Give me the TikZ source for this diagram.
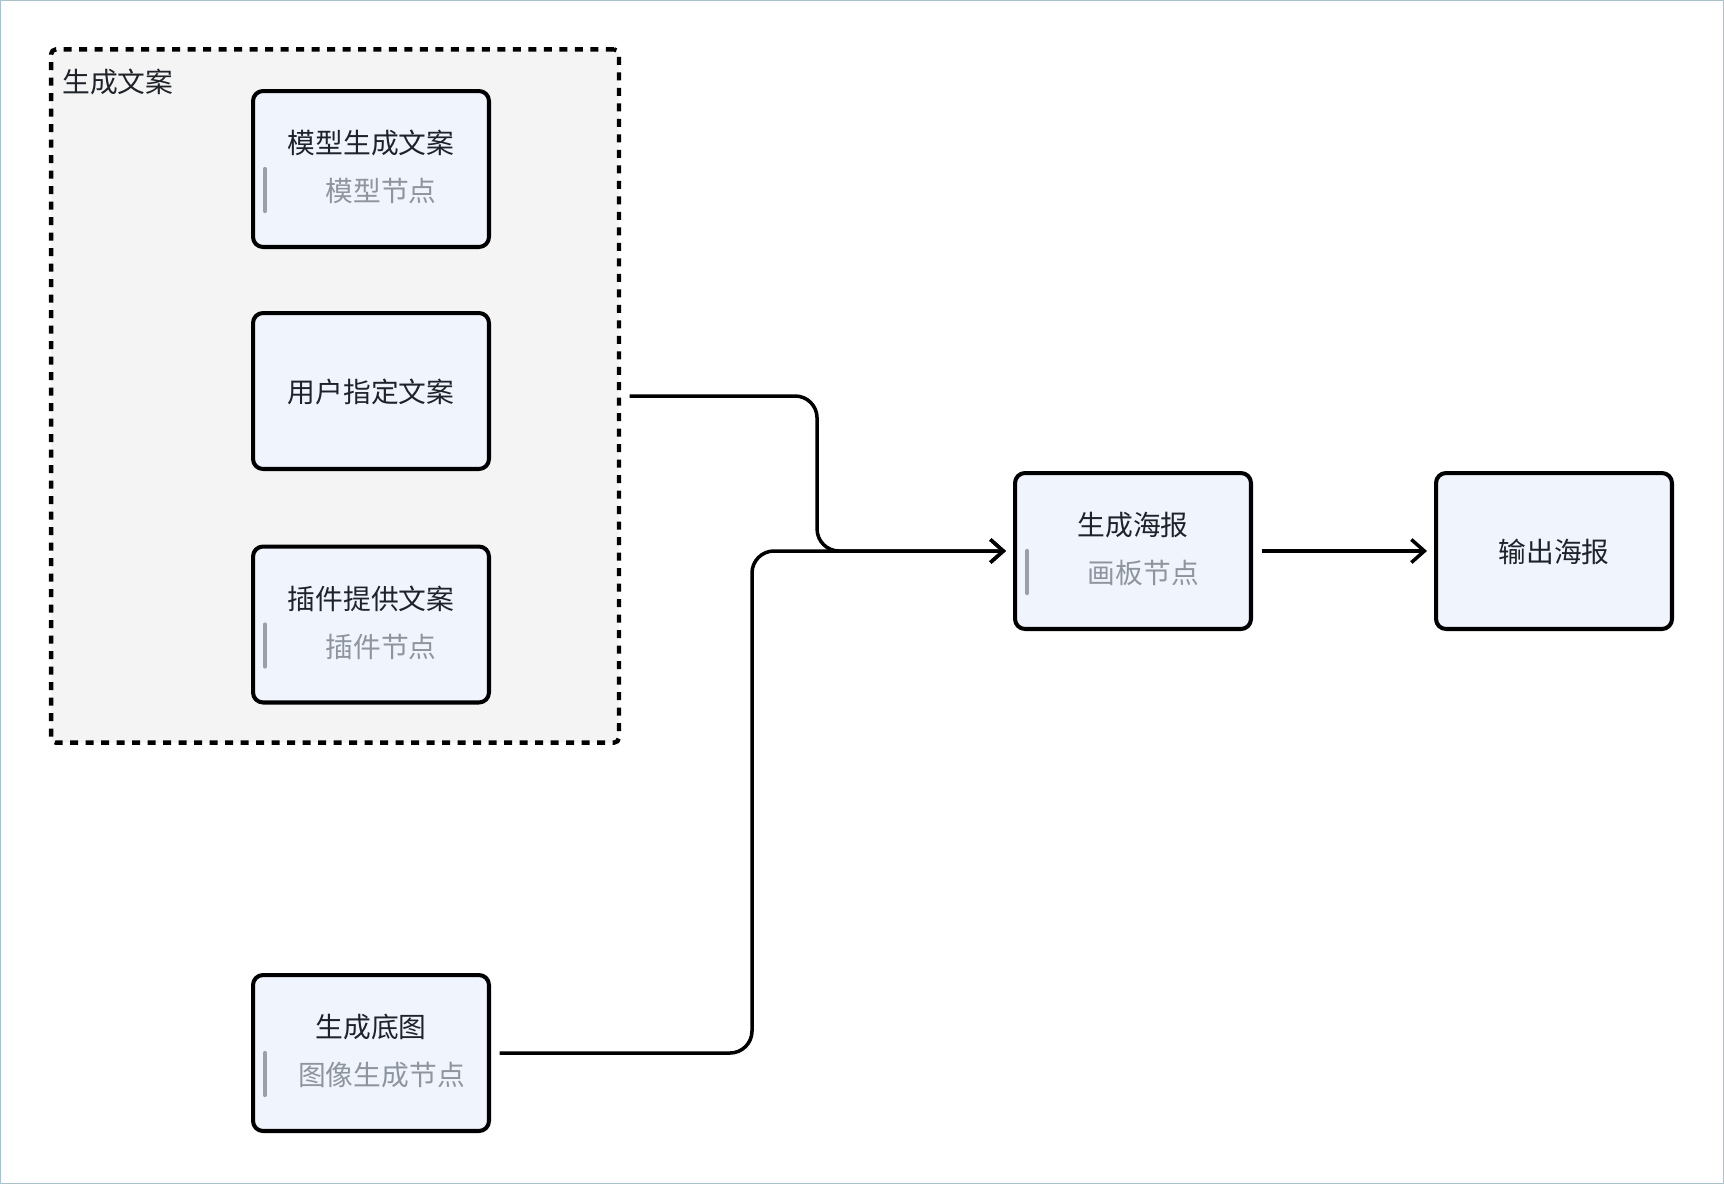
\documentclass[tikz,border=0pt]{standalone}
\usepackage{fontspec}
\usepackage{tikz}
\usetikzlibrary{arrows.meta,calc}
\newfontfamily\cjk{Noto Sans CJK SC}
\definecolor{boxfill}{RGB}{239,244,253}
\definecolor{grpfill}{RGB}{244,244,244}
\definecolor{frame}{RGB}{170,192,202}
\definecolor{ink}{RGB}{31,35,41}
\definecolor{subink}{RGB}{143,149,158}
\definecolor{barink}{RGB}{154,160,170}

\begin{document}
\begin{tikzpicture}[x=0.02cm, y=-0.02cm, line join=round,
  grpbox/.style={draw=black, line width=2.5pt, dash pattern=on 0.16cm off 0.15cm, fill=grpfill, rounded corners=0.1cm, minimum width=11.36cm, minimum height=13.87cm, inner sep=0pt},
  stepbox/.style={draw=black, line width=2.3pt, fill=boxfill, rounded corners=0.2cm, minimum width=4.72cm, minimum height=3.12cm, inner sep=0pt},
  ttl/.style={font=\cjk\fontsize{15.8}{18}\selectfont, text=ink, inner sep=0pt},
  sub/.style={font=\cjk\fontsize{15.8}{18}\selectfont, text=subink, inner sep=0pt},
  bar/.style={draw=barink, line width=2.4pt, line cap=round},
  flow/.style={line width=2pt, rounded corners=0.44cm, -{Straight Barb[length=0.26cm,width=0.46cm,line width=2pt]}, shorten <=0.17cm, shorten >=0.14cm}]
\useasboundingbox (0,0) rectangle (1724,1184);
\draw[frame, line width=0.6pt] (0.5,0.5) rectangle (1723.5,1183.5);

% group of copy sources
\node[grpbox] (grp) at (335,396) {};
\node[ttl, anchor=west] (grp-t) at (62,82) {生成文案};

\node[stepbox] (model) at (371,169) {};
\node[ttl] (model-t) at (371,143) {模型生成文案};
\node[sub] (model-s) at (381,191) {模型节点};
\draw[bar] ($(model.west)+(14,0)$) -- ($(model.west)+(14,42)$);

\node[stepbox] (user) at (371,391) {};
\node[ttl] (user-t) at (371,392) {用户指定文案};

\node[stepbox] (plugin) at (371,624.5) {};
\node[ttl] (plugin-t) at (371,598.5) {插件提供文案};
\node[sub] (plugin-s) at (381,646.5) {插件节点};
\draw[bar] ($(plugin.west)+(14,0)$) -- ($(plugin.west)+(14,42)$);

% base image
\node[stepbox] (base) at (371,1053) {};
\node[ttl] (base-t) at (371,1027) {生成底图};
\node[sub] (base-s) at (381.5,1075) {图像生成节点};
\draw[bar] ($(base.west)+(14,0)$) -- ($(base.west)+(14,42)$);

% poster
\node[stepbox] (poster) at (1133,551) {};
\node[ttl] (poster-t) at (1133,525) {生成海报};
\node[sub] (poster-s) at (1143.5,573) {画板节点};
\draw[bar] ($(poster.west)+(14,0)$) -- ($(poster.west)+(14,42)$);

\node[stepbox] (out) at (1554,551) {};
\node[ttl] (out-t) at (1554,552) {输出海报};

\draw[flow] (grp.east) -| ($(grp.east)!.5!(poster.west)$) |- (poster.west);
\draw[flow] (base.east) -| ($(base.east)!.5!(poster.west)$) |- (poster.west);
\draw[flow] (poster.east) -- (out.west);
\end{tikzpicture}
\end{document}
